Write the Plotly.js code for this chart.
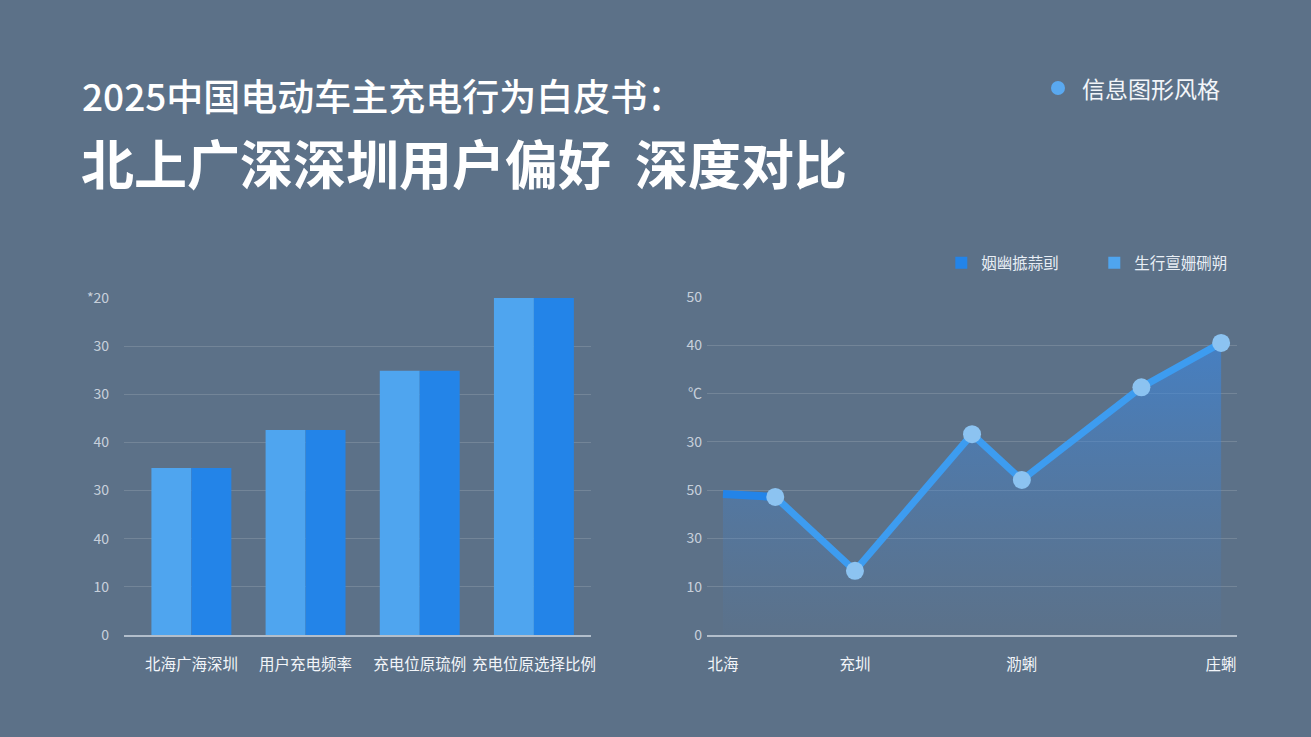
<!DOCTYPE html>
<html>
<head>
<meta charset="utf-8">
<script src="https://cdn.plot.ly/plotly-3.0.1.min.js"></script>
<style>
  html, body { margin: 0; padding: 0; background: #5c7188; }
  #chart { width: 1311px; height: 737px; }
</style>
</head>
<body>
<div id="chart"></div>
<script>
// left chart: grouped bars
var barCats = ['北海广海深圳', '用户充电频率', '充电位原琉例', '充电位原选择比例'];
var barLight = [34.7, 42.6, 54.9, 70];
var barDark = [34.7, 42.6, 54.9, 70];
var barTickVals = [0, 10, 20, 30, 40, 50, 60, 70];
var barTickText = ['0', '10', '40', '30', '40', '30', '30', '*20'];

// right chart: line + area
var lineX = [0, 1.05, 2.65, 5, 6, 8.4, 10];
var lineY = [29.2, 28.6, 13.3, 41.6, 32.1, 51.3, 60.5];
var lineTickVals = [0, 2.65, 6, 10];
var lineTickText = ['北海', '充圳', '泐蜊', '庄蜊'];
var lineYTickVals = [0, 10, 20, 30, 40, 50, 60, 70];
var lineYTickText = ['0', '10', '30', '50', '30', '℃', '40', '50'];

var legendNames = ['生行亶姗硎朔', '姻幽掋蒜刯'];

var FONT = '"Noto Sans CJK SC", "Noto Sans", sans-serif';

var data = [
  {
    type: 'bar', x: barCats, y: barLight, name: legendNames[0],
    marker: {color: '#4fa5ef'}, xaxis: 'x', yaxis: 'y'
  },
  {
    type: 'bar', x: barCats, y: barDark, name: legendNames[1],
    marker: {color: '#2384e8'}, xaxis: 'x', yaxis: 'y'
  },
  {
    // area under the line
    type: 'scatter', mode: 'none', x: lineX, y: lineY,
    fill: 'tozeroy',
    fillgradient: {
      type: 'vertical',
      colorscale: [[0, 'rgba(70,130,200,0.03)'], [1, 'rgba(58,135,225,0.65)']]
    },
    showlegend: false, hoverinfo: 'skip', xaxis: 'x2', yaxis: 'y2'
  },
  {
    // first segment in the darker blue
    type: 'scatter', mode: 'lines', x: lineX.slice(0, 2), y: lineY.slice(0, 2),
    line: {color: '#2384e8', width: 8},
    showlegend: false, xaxis: 'x2', yaxis: 'y2'
  },
  {
    type: 'scatter', mode: 'lines+markers', x: lineX.slice(1), y: lineY.slice(1),
    line: {color: '#3d9cf0', width: 7},
    marker: {color: '#8cc3f1', size: 18},
    showlegend: false, xaxis: 'x2', yaxis: 'y2'
  }
];

var gridCol = 'rgba(255,255,255,0.14)';
var axisCol = 'rgba(225,232,240,0.65)';
var tickFont = {family: FONT, size: 14, color: 'rgba(228,234,242,0.8)'};
var catFont = {family: FONT, size: 15.5, color: '#f2f5f9'};

var layout = {
  width: 1311, height: 737,
  margin: {l: 0, r: 0, t: 0, b: 0, autoexpand: false},
  paper_bgcolor: '#5c7188',
  plot_bgcolor: 'rgba(0,0,0,0)',
  font: {family: FONT, color: '#ffffff'},
  barmode: 'group', bargap: 0.3, bargroupgap: 0,
  showlegend: true,
  legend: {
    orientation: 'h', traceorder: 'reversed',
    x: 0.718, xanchor: 'left', y: 0.643, yanchor: 'middle',
    font: {family: FONT, size: 15.5, color: '#e8eef5'},
    entrywidth: 108, entrywidthmode: 'pixels',
    bgcolor: 'rgba(0,0,0,0)'
  },
  xaxis: {
    domain: [0.0946, 0.4508], anchor: 'y', type: 'category',
    range: [-0.59, 3.5], showgrid: false, zeroline: false,
    showline: true, linecolor: axisCol, linewidth: 2,
    ticks: '', tickfont: catFont, ticklabelstandoff: 14
  },
  yaxis: {
    domain: [0.1384, 0.5957], anchor: 'x', range: [0, 70],
    tickvals: barTickVals, ticktext: barTickText,
    gridcolor: gridCol, gridwidth: 1, zeroline: false, showline: false,
    ticks: '', tickfont: tickFont, ticklabelstandoff: 14
  },
  xaxis2: {
    domain: [0.5393, 0.9436], anchor: 'y2', range: [-0.32, 10.32],
    tickvals: lineTickVals, ticktext: lineTickText,
    showgrid: false, zeroline: false,
    showline: true, linecolor: axisCol, linewidth: 2,
    ticks: '', tickfont: catFont, ticklabelstandoff: 14
  },
  yaxis2: {
    domain: [0.1384, 0.597], anchor: 'x2', range: [0, 70],
    tickvals: lineYTickVals, ticktext: lineYTickText,
    gridcolor: gridCol, gridwidth: 1, zeroline: false, showline: false,
    ticks: '', tickfont: tickFont, ticklabelstandoff: 4
  },
  shapes: [
    {
      type: 'circle', xref: 'paper', yref: 'paper',
      x0: 1051 / 1311, x1: 1065 / 1311, y0: (737 - 95) / 737, y1: (737 - 81) / 737,
      fillcolor: '#5aa9f0', line: {width: 0}
    }
  ],
  annotations: [
    {
      text: '2025中国电动车主充电行为白皮书：', xref: 'paper', yref: 'paper',
      x: 80 / 1311, y: (737 - 95) / 737, xanchor: 'left', yanchor: 'middle',
      showarrow: false, font: {family: FONT, size: 37, color: '#ffffff', weight: 500}
    },
    {
      text: '北上广深深圳用户偏好  深度对比', xref: 'paper', yref: 'paper',
      x: 79 / 1311, y: (737 - 162) / 737, xanchor: 'left', yanchor: 'middle',
      showarrow: false, font: {family: FONT, size: 53, color: '#ffffff', weight: 700}
    },
    {
      text: '信息图形风格', xref: 'paper', yref: 'paper',
      x: 1080 / 1311, y: (737 - 88) / 737, xanchor: 'left', yanchor: 'middle',
      showarrow: false, font: {family: FONT, size: 23, color: '#f2f5f9'}
    }
  ]
};

Plotly.newPlot('chart', data, layout, {displayModeBar: false, staticPlot: true});
</script>
</body>
</html>
